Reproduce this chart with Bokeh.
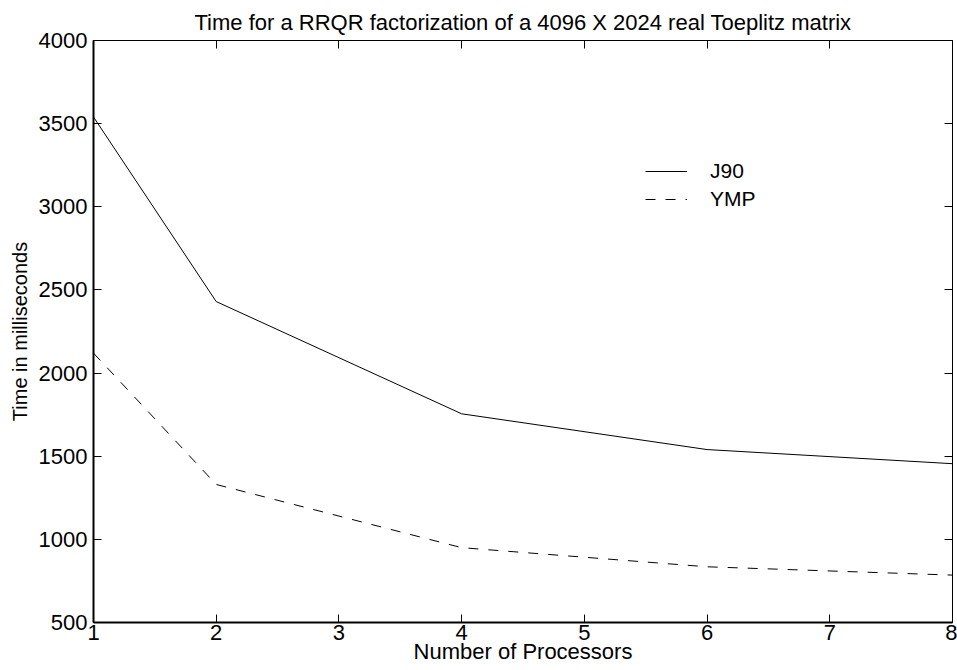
from bokeh.plotting import figure
from bokeh.models import Range1d, LinearAxis, FixedTicker, Legend, LegendItem
from bokeh.embed import file_html
from bokeh.resources import INLINE

# ---- data ----
processors = [1, 2, 4, 6, 8]
j90_ms = [3540, 2430, 1755, 1540, 1455]
ymp_ms = [2120, 1330, 950, 835, 785]
x_ticks = [1, 2, 3, 4, 5, 6, 7, 8]
y_ticks = [500, 1000, 1500, 2000, 2500, 3000, 3500, 4000]
title_text = "Time for a RRQR factorization of a 4096 X 2024 real Toeplitz matrix"
x_label = "Number of Processors"
y_label = "Time in milliseconds"
series_names = ["J90", "YMP"]

FONT = "Liberation Sans"

p = figure(width=957, height=670, output_backend="svg", toolbar_location=None,
           x_range=Range1d(1, 8), y_range=Range1d(500, 4000),
           min_border_left=93, min_border_right=5, min_border_top=40, min_border_bottom=48,
           background_fill_color="white", border_fill_color="white")

p.title.text = title_text
p.title.align = "center"
p.title.text_font = FONT
p.title.text_font_size = "22px"
p.title.text_font_style = "normal"
p.title.text_color = "black"
p.title.standoff = 12

p.xgrid.grid_line_color = None
p.ygrid.grid_line_color = None
p.outline_line_color = "black"
p.outline_line_width = 1

def style_axis(ax, ticks):
    ax.ticker = FixedTicker(ticks=ticks)
    ax.major_tick_in = 8
    ax.major_tick_out = 0
    ax.major_tick_line_color = "black"
    ax.minor_tick_line_color = None
    ax.axis_line_color = "black"
    ax.axis_line_width = 2
    ax.major_label_text_font = FONT
    ax.major_label_text_font_size = "22px"
    ax.major_label_text_color = "black"
    ax.axis_label_text_font = FONT
    ax.axis_label_text_font_style = "normal"
    ax.axis_label_text_color = "black"

style_axis(p.xaxis[0], x_ticks)
style_axis(p.yaxis[0], y_ticks)
p.xaxis[0].axis_label = x_label
p.xaxis[0].axis_label_text_font_size = "22px"
p.xaxis[0].major_label_standoff = 2
p.xaxis[0].axis_label_standoff = -4
p.yaxis[0].axis_label = y_label
p.yaxis[0].axis_label_text_font_size = "20px"
p.yaxis[0].major_label_standoff = 6
p.yaxis[0].axis_label_standoff = 5

# tick marks on the top and right edges (no labels there)
for loc, ticks in (("above", x_ticks), ("right", y_ticks)):
    ax = LinearAxis(ticker=FixedTicker(ticks=ticks), major_tick_in=8, major_tick_out=0,
                    minor_tick_line_color=None, axis_line_color=None,
                    major_tick_line_color="black",
                    major_label_text_color=None,
                    major_label_text_font_size="1px", major_label_standoff=0)
    p.add_layout(ax, loc)

r1 = p.line(processors, j90_ms, line_color="black", line_width=1)
r2 = p.line(processors, ymp_ms, line_color="black", line_width=1, line_dash="10 10")

legend = Legend(items=[LegendItem(label=series_names[0], renderers=[r1]),
                       LegendItem(label=series_names[1], renderers=[r2])],
                location=(552, 409), padding=0, margin=0, spacing=0,
                glyph_width=42, glyph_height=28, label_height=28,
                label_standoff=23, label_text_font=FONT, label_text_font_size="21px",
                label_text_baseline="top", label_text_color="black",
                border_line_color=None, background_fill_alpha=0)
p.add_layout(legend)

open("out.html", "w").write(file_html(p, INLINE))
